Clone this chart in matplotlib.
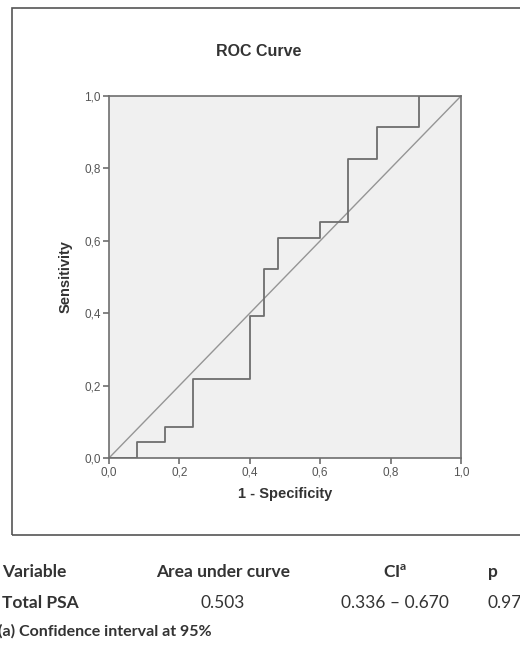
import matplotlib.pyplot as plt
from matplotlib.patches import Rectangle

# datos de la curva ROC (1 - especificidad, sensibilidad)
fpr = [0.0, 0.08, 0.08, 0.16, 0.16, 0.24, 0.24, 0.40, 0.40, 0.44, 0.44, 0.48, 0.48,
       0.60, 0.60, 0.68, 0.68, 0.76, 0.76, 0.88, 0.88, 1.0]
tpr = [0.0, 0.0, 0.043, 0.043, 0.087, 0.087, 0.217, 0.217, 0.391, 0.391, 0.522, 0.522,
       0.609, 0.609, 0.652, 0.652, 0.826, 0.826, 0.913, 0.913, 1.0, 1.0]

ticks = [0.0, 0.2, 0.4, 0.6, 0.8, 1.0]
tick_labels = ["0,0", "0,2", "0,4", "0,6", "0,8", "1,0"]

# tabla
encabezados = ["Variable", "Area under curve", "CI$^{\\mathregular{a}}$", "p"]
fila = ["Total PSA", "0.503", "0.336 \u2013 0.670", "0.971"]
nota = "(a) Confidence interval at 95%"

gris = "#6e6e6e"

fig = plt.figure(figsize=(5.2, 6.56), dpi=100)
fig.patches.append(Rectangle((12 / 520, 1 - 535 / 656), 1.0, (535 - 8) / 656,
                             transform=fig.transFigure, fill=False,
                             edgecolor="#555555", lw=1.2))

ax = fig.add_axes([109 / 520, 1 - 458 / 656, 352 / 520, 362 / 656])
ax.set_facecolor("#f0f0f0")
ax.plot([0, 1], [0, 1], color="#959595", lw=1.0)
ax.plot(fpr, tpr, color=gris, lw=1.3)
ax.set_xlim(0, 1)
ax.set_ylim(0, 1)
ax.set_xticks(ticks)
ax.set_xticklabels(tick_labels)
ax.set_yticks(ticks)
ax.set_yticklabels(tick_labels)
for s in ax.spines.values():
    s.set_color(gris)
    s.set_linewidth(1.2)
ax.tick_params(direction="out", length=4, width=1.2, color=gris,
               labelsize=8.5, labelcolor="#555555", pad=2)
for lab in ax.get_xticklabels() + ax.get_yticklabels():
    lab.set_family("Liberation Sans")

ax.set_xlabel("1 - Specificity", family="Liberation Sans", fontweight="bold",
              fontsize=10.5, color="#333333", labelpad=6)
ax.set_ylabel("Sensitivity", family="Liberation Sans", fontweight="bold",
              fontsize=10.5, color="#333333", labelpad=8)
fig.text(259 / 520, 1 - 52 / 656, "ROC Curve", family="Liberation Sans",
         fontweight="bold", fontsize=11.5, color="#333333", ha="center", va="center")

# tabla debajo
xs = [2, 223, 395, 488]
has = ["left", "center", "center", "left"]
for x, ha, t in zip(xs, has, encabezados):
    fig.text(x / 520, 1 - 572 / 656, t, family="Lato", fontweight="bold",
             fontsize=12.5, color="#333333", ha=ha, va="center")
for i, (x, ha, t) in enumerate(zip(xs, has, fila)):
    fig.text(x / 520, 1 - 603 / 656, t, family="Lato",
             fontweight="bold" if i == 0 else "normal",
             fontsize=12.5, color="#333333", ha=ha, va="center")
fig.text(-2 / 520, 1 - 631 / 656, nota, family="Lato", fontweight="bold",
         fontsize=11.5, color="#333333", ha="left", va="center")

fig.savefig("out.png", dpi=100)
